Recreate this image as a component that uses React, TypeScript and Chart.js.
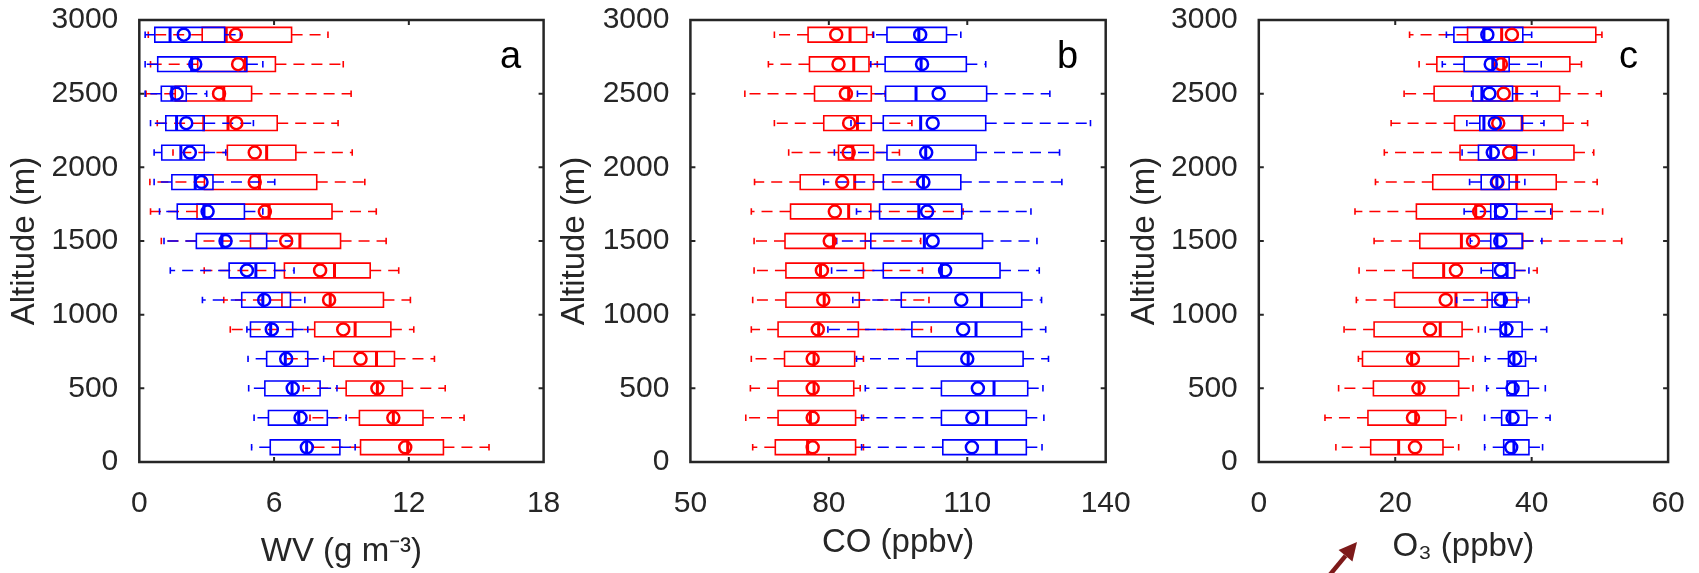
import React, { useEffect, useRef } from "react";
import { Chart, registerables } from "chart.js";

Chart.register(...registerables);

// Altitude levels (m), top to bottom
const ALTITUDES = [2900, 2700, 2500, 2300, 2100, 1900, 1700, 1500, 1300, 1100, 900, 700, 500, 300, 100];

// ---------- Panel a: WV (g m-3) ----------
const WV_RED_MIN = [0.4, 0.5, 0.3, 0.8, 1.5, 0.47, 0.5, 0.98, 2.89, 3.76, 4.05, 6.5, 7.3, 7.6, 7.7];
const WV_RED_Q1 = [2.8, 2.6, 1.6, 2.84, 3.92, 2.9, 2.57, 4.95, 6.46, 6.35, 7.81, 8.66, 9.21, 9.8, 9.85];
const WV_RED_MED = [3.87, 4.72, 3.76, 3.95, 5.67, 5.35, 5.78, 7.15, 8.69, 8.5, 9.61, 10.56, 10.6, 11.31, 11.95];
const WV_RED_MEAN = [4.3, 4.4, 3.55, 4.32, 5.14, 5.14, 5.59, 6.54, 8.05, 8.45, 9.08, 9.85, 10.6, 11.31, 11.84];
const WV_RED_Q3 = [6.78, 6.06, 5.0, 6.14, 6.97, 7.9, 8.58, 8.96, 10.28, 10.87, 11.2, 11.36, 11.71, 12.63, 13.54];
const WV_RED_MAX = [8.4, 9.08, 9.43, 8.85, 9.48, 10.04, 10.55, 10.99, 11.55, 12.07, 12.22, 13.14, 13.62, 14.46, 15.57];

const WV_BLUE_MIN = [0.26, 0.26, 0.26, 0.5, 0.66, 0.66, 0.9, 1.1, 1.38, 2.81, 4.79, 4.84, 4.87, 5.11, 5.0];
const WV_BLUE_Q1 = [0.69, 0.82, 0.98, 1.18, 1.0, 1.45, 1.69, 2.54, 4.0, 4.56, 4.95, 5.67, 5.59, 5.75, 5.83];
const WV_BLUE_MED = [1.37, 2.33, 1.45, 1.66, 1.85, 2.49, 2.88, 3.68, 5.19, 5.5, 5.85, 6.5, 6.8, 7.1, 7.45];
const WV_BLUE_MEAN = [1.98, 2.49, 1.66, 2.09, 2.25, 2.77, 3.04, 3.84, 4.79, 5.56, 5.9, 6.54, 6.83, 7.18, 7.46];
const WV_BLUE_Q3 = [3.8, 4.79, 2.09, 2.89, 2.89, 3.28, 4.68, 5.67, 6.03, 6.73, 6.83, 7.5, 8.05, 8.37, 8.93];
const WV_BLUE_MAX = [4.5, 5.5, 3.0, 5.08, 3.85, 6.03, 5.5, 6.8, 6.89, 7.37, 7.5, 8.21, 8.8, 9.21, 9.61];

// ---------- Panel b: CO (ppbv) ----------
const CO_RED_MIN = [68.2, 66.9, 61.8, 68.2, 71.3, 63.9, 63.2, 63.8, 63.8, 63.5, 63.2, 63.2, 63.0, 62.0, 63.5];
const CO_RED_Q1 = [75.5, 75.8, 76.9, 78.9, 82.1, 73.8, 71.7, 70.5, 70.7, 70.7, 69.0, 70.4, 69.0, 69.0, 68.4];
const CO_RED_MED = [84.6, 85.4, 84.3, 86.2, 85.2, 85.6, 84.3, 81.0, 78.2, 79.0, 77.8, 76.8, 76.8, 76.0, 75.4];
const CO_RED_MEAN = [81.6, 82.1, 83.7, 84.4, 84.3, 82.9, 81.3, 80.2, 78.5, 78.8, 77.6, 76.5, 76.5, 76.5, 76.5];
const CO_RED_Q3 = [88.2, 88.7, 89.2, 89.2, 89.7, 89.7, 89.1, 87.9, 87.5, 86.6, 86.4, 85.6, 85.4, 85.8, 85.8];
const CO_RED_MAX = [89.5, 90.5, 92.2, 98.0, 95.3, 99.1, 109.1, 99.9, 100.3, 101.7, 102.2, 87.5, 86.8, 87.5, 87.5];

const CO_BLUE_MIN = [89.7, 89.1, 86.2, 84.8, 81.2, 78.9, 86.0, 81.7, 80.6, 85.2, 79.8, 86.0, 87.9, 87.1, 87.1];
const CO_BLUE_Q1 = [92.6, 92.2, 92.3, 91.8, 92.6, 91.8, 91.0, 89.1, 91.8, 95.7, 98.0, 99.1, 104.4, 104.4, 104.7];
const CO_BLUE_MED = [99.5, 100.0, 98.9, 99.9, 101.0, 100.5, 99.5, 100.7, 104.4, 113.1, 111.9, 110.2, 115.8, 114.2, 116.3];
const CO_BLUE_MEAN = [99.8, 100.2, 103.8, 102.5, 101.1, 100.5, 101.3, 102.5, 105.2, 108.7, 109.1, 110.0, 112.3, 111.1, 111.0];
const CO_BLUE_Q3 = [105.5, 109.8, 114.2, 114.0, 111.9, 108.6, 108.8, 113.3, 117.1, 121.8, 121.8, 122.1, 123.1, 122.8, 122.8];
const CO_BLUE_MAX = [108.6, 114.0, 127.9, 136.7, 130.0, 130.5, 123.8, 125.1, 125.6, 126.1, 127.0, 127.6, 126.4, 126.6, 126.2];

// ---------- Panel c: O3 (ppbv) ----------
const O3_RED_MIN = [22.1, 23.5, 21.3, 19.4, 18.4, 17.1, 14.1, 16.9, 14.7, 14.3, 12.5, 14.6, 11.7, 9.7, 11.3];
const O3_RED_Q1 = [30.6, 26.1, 25.7, 28.7, 29.5, 25.5, 23.1, 23.6, 22.6, 19.9, 16.9, 15.2, 16.8, 16.0, 16.4];
const O3_RED_MED = [35.6, 35.9, 37.8, 38.6, 37.5, 37.8, 31.8, 29.7, 27.1, 28.9, 26.6, 22.4, 23.5, 23.0, 20.5];
const O3_RED_MEAN = [37.1, 35.5, 35.9, 35.1, 36.7, 35.0, 32.3, 31.4, 28.9, 27.4, 25.1, 22.6, 23.4, 22.6, 22.9];
const O3_RED_Q3 = [49.4, 45.6, 44.1, 44.6, 46.2, 43.6, 43.0, 38.7, 37.5, 33.5, 29.8, 29.3, 29.3, 27.4, 27.0];
const O3_RED_MAX = [50.3, 47.3, 50.2, 48.2, 49.1, 49.6, 50.4, 53.2, 40.8, 38.0, 32.2, 31.4, 31.4, 29.7, 29.3];

const O3_BLUE_MIN = [27.5, 26.9, 31.2, 30.5, 29.8, 30.9, 30.1, 31.0, 32.6, 29.0, 33.2, 33.2, 33.4, 33.1, 33.1];
const O3_BLUE_Q1 = [28.6, 30.1, 31.4, 32.4, 32.2, 32.6, 34.0, 34.0, 34.3, 34.2, 35.4, 36.6, 36.4, 35.6, 35.9];
const O3_BLUE_MED = [33.0, 34.3, 32.7, 33.0, 34.0, 34.9, 34.7, 34.9, 36.4, 36.0, 36.2, 37.4, 37.6, 36.8, 37.4];
const O3_BLUE_MEAN = [33.5, 34.0, 33.8, 34.6, 34.3, 34.9, 35.5, 35.4, 35.5, 35.5, 36.3, 37.6, 37.2, 37.2, 37.0];
const O3_BLUE_Q3 = [38.7, 36.7, 37.2, 38.6, 37.8, 36.7, 37.8, 38.6, 37.5, 37.8, 38.6, 39.1, 39.5, 39.3, 39.6];
const O3_BLUE_MAX = [40.0, 41.4, 40.8, 41.8, 40.3, 39.0, 42.8, 41.5, 39.6, 39.6, 42.2, 40.6, 42.0, 42.7, 41.6];

// ---------- styles ----------
const FONT = '"Liberation Sans", Arial, Helvetica, sans-serif';
const TEXT = "#262626";
const RED = "#ff0000";
const BLUE = "#0000ff";
const BOX_HALF = 50; // half box height in altitude units
const CAP_HALF = 22;
const TICK_SIZE = 30;
const TITLE_SIZE = 33;

type Stats = { min: number[]; q1: number[]; med: number[]; mean: number[]; q3: number[]; max: number[] };

const gap = () => ({ x: null, y: null });

function seriesParts(s: Stats, color: string) {
  const box: any[] = [];
  const whisk: any[] = [];
  const caps: any[] = [];
  const med: any[] = [];
  const mean: any[] = [];
  ALTITUDES.forEach((a, i) => {
    const lo = a - BOX_HALF;
    const hi = a + BOX_HALF;
    box.push({ x: s.q1[i], y: lo }, { x: s.q3[i], y: lo }, { x: s.q3[i], y: hi }, { x: s.q1[i], y: hi }, { x: s.q1[i], y: lo }, gap());
    whisk.push({ x: s.q3[i], y: a }, { x: s.max[i], y: a }, gap(), { x: s.q1[i], y: a }, { x: s.min[i], y: a }, gap());
    caps.push({ x: s.max[i], y: a - CAP_HALF }, { x: s.max[i], y: a + CAP_HALF }, gap(), { x: s.min[i], y: a - CAP_HALF }, { x: s.min[i], y: a + CAP_HALF }, gap());
    med.push({ x: s.med[i], y: lo }, { x: s.med[i], y: hi }, gap());
    mean.push({ x: s.mean[i], y: a });
  });
  const line = (data: any[], width: number, dash: number[] = [], cap = "butt") => ({
    data,
    showLine: true,
    spanGaps: false,
    borderColor: color,
    borderWidth: width,
    borderDash: dash,
    borderCapStyle: cap,
    borderJoinStyle: "miter",
    pointRadius: 0,
    pointHoverRadius: 0,
    fill: false,
    tension: 0,
  });
  return {
    body: [line(whisk, 1.5, [11, 7]), line(caps, 1.6), line(box, 1.6, [], "square"), line(med, 3)],
    mean: {
      data: mean,
      showLine: false,
      pointStyle: "circle",
      pointRadius: 6,
      pointHoverRadius: 6,
      pointBorderWidth: 2.5,
      pointBorderColor: color,
      pointBackgroundColor: "rgba(0,0,0,0)",
      borderColor: color,
      backgroundColor: "rgba(0,0,0,0)",
    },
  };
}

const framePlugin = {
  id: "frame",
  afterDatasetsDraw(chart: any, _args: any, opts: any) {
    const { ctx, chartArea } = chart;
    const { left, right, top, bottom } = chartArea;
    ctx.save();
    ctx.strokeStyle = TEXT;
    ctx.lineWidth = 2.5;
    ctx.strokeRect(left, top, right - left, bottom - top);
    const TL = 5;
    ctx.lineWidth = 2;
    const xs = chart.scales.x;
    const ys = chart.scales.y;
    ctx.beginPath();
    xs.ticks.forEach((t: any) => {
      const p = xs.getPixelForValue(t.value);
      if (p <= left + 1 || p >= right - 1) return;
      ctx.moveTo(p, bottom);
      ctx.lineTo(p, bottom - TL);
      ctx.moveTo(p, top);
      ctx.lineTo(p, top + TL);
    });
    ys.ticks.forEach((t: any) => {
      const p = ys.getPixelForValue(t.value);
      if (p <= top + 1 || p >= bottom - 1) return;
      ctx.moveTo(left, p);
      ctx.lineTo(left + TL, p);
      ctx.moveTo(right, p);
      ctx.lineTo(right - TL, p);
    });
    ctx.stroke();
    ctx.fillStyle = "#000";
    ctx.font = `38px ${FONT}`;
    ctx.textAlign = "right";
    ctx.textBaseline = "alphabetic";
    ctx.fillText(opts.letter, right - opts.dx, top + 48);
    ctx.restore();
  },
  afterDraw(chart: any, _args: any, opts: any) {
    if (!opts.arrow) return;
    const ctx = chart.ctx;
    const [tx, ty, bx, by] = opts.arrow;
    ctx.save();
    ctx.strokeStyle = "#7d1a1a";
    ctx.fillStyle = "#7d1a1a";
    ctx.lineWidth = 4.5;
    const ang = Math.atan2(ty - by, tx - bx);
    const hl = 18;
    const hw = 9;
    const baseX = tx - hl * Math.cos(ang);
    const baseY = ty - hl * Math.sin(ang);
    ctx.beginPath();
    ctx.moveTo(bx, by);
    ctx.lineTo(baseX, baseY);
    ctx.stroke();
    ctx.beginPath();
    ctx.moveTo(tx, ty);
    ctx.lineTo(baseX + hw * Math.sin(ang), baseY - hw * Math.cos(ang));
    ctx.lineTo(baseX - hw * Math.sin(ang), baseY + hw * Math.cos(ang));
    ctx.closePath();
    ctx.fill();
    ctx.restore();
  },
};

type Panel = {
  left: number;
  width: number;
  yAxisWidth: number;
  padRight: number;
  yTitlePad: number;
  xTitlePad: number;
  xMin: number;
  xMax: number;
  xStep: number;
  xTitle: string;
  letter: string;
  letterDx: number;
  red: Stats;
  blue: Stats;
  arrow?: number[];
};

const PANELS: Panel[] = [
  {
    left: 0, width: 600, yAxisWidth: 139.3, padRight: 56.4, yTitlePad: 5, xTitlePad: 1,
    xMin: 0, xMax: 18, xStep: 6, xTitle: "WV (g m⁻³)", letter: "a", letterDx: 22.5,
    red: { min: WV_RED_MIN, q1: WV_RED_Q1, med: WV_RED_MED, mean: WV_RED_MEAN, q3: WV_RED_Q3, max: WV_RED_MAX },
    blue: { min: WV_BLUE_MIN, q1: WV_BLUE_Q1, med: WV_BLUE_MED, mean: WV_BLUE_MEAN, q3: WV_BLUE_Q3, max: WV_BLUE_MAX },
  },
  {
    left: 552, width: 608, yAxisWidth: 138.4, padRight: 54.3, yTitlePad: 3, xTitlePad: 10.5,
    xMin: 50, xMax: 140, xStep: 30, xTitle: "CO (ppbv)", letter: "b", letterDx: 27.5,
    red: { min: CO_RED_MIN, q1: CO_RED_Q1, med: CO_RED_MED, mean: CO_RED_MEAN, q3: CO_RED_Q3, max: CO_RED_MAX },
    blue: { min: CO_BLUE_MIN, q1: CO_BLUE_Q1, med: CO_BLUE_MED, mean: CO_BLUE_MEAN, q3: CO_BLUE_Q3, max: CO_BLUE_MAX },
  },
  {
    left: 1122, width: 577, yAxisWidth: 136.8, padRight: 30.9, yTitlePad: 3, xTitlePad: 6.5,
    xMin: 0, xMax: 60, xStep: 20, xTitle: "O₃ (ppbv)", letter: "c", letterDx: 30,
    red: { min: O3_RED_MIN, q1: O3_RED_Q1, med: O3_RED_MED, mean: O3_RED_MEAN, q3: O3_RED_Q3, max: O3_RED_MAX },
    blue: { min: O3_BLUE_MIN, q1: O3_BLUE_Q1, med: O3_BLUE_MED, mean: O3_BLUE_MEAN, q3: O3_BLUE_Q3, max: O3_BLUE_MAX },
    arrow: [235, 542, 206, 577],
  },
];

const plainTick = (v: any) => String(v);

function BoxPanel({ p }: { p: Panel }) {
  const ref = useRef<HTMLCanvasElement | null>(null);
  useEffect(() => {
    if (!ref.current) return;
    const red = seriesParts(p.red, RED);
    const blue = seriesParts(p.blue, BLUE);
    const ordered = [...red.body, ...blue.body, red.mean, blue.mean];
    const datasets = ordered.map((d, i) => ({ ...d, order: ordered.length - i }));
    const chart = new Chart(ref.current, {
      type: "line",
      data: { datasets } as any,
      plugins: [framePlugin as any],
      options: {
        responsive: false,
        maintainAspectRatio: false,
        animation: false,
        events: [],
        layout: { padding: { top: 20, right: p.padRight, bottom: 0, left: 0 } },
        plugins: {
          legend: { display: false },
          tooltip: { enabled: false },
          frame: { letter: p.letter, dx: p.letterDx, arrow: p.arrow },
        } as any,
        scales: {
          x: {
            type: "linear",
            min: p.xMin,
            max: p.xMax,
            grid: { display: false },
            border: { display: false },
            ticks: { stepSize: p.xStep, callback: plainTick, font: { family: FONT, size: TICK_SIZE }, color: TEXT, padding: 16, maxRotation: 0, autoSkip: false },
            title: { display: true, text: p.xTitle, font: { family: FONT, size: TITLE_SIZE }, color: TEXT, padding: { top: 0, bottom: p.xTitlePad } },
            afterFit: (s: any) => { s.height = 111; s.paddingLeft = 0; s.paddingRight = 0; },
          },
          y: {
            type: "linear",
            min: 0,
            max: 3000,
            grid: { display: false },
            border: { display: false },
            ticks: { stepSize: 500, callback: plainTick, font: { family: FONT, size: TICK_SIZE }, color: TEXT, padding: 13, autoSkip: false },
            title: { display: true, text: "Altitude (m)", font: { family: FONT, size: TITLE_SIZE }, color: TEXT, padding: { top: p.yTitlePad, bottom: 0 } },
            afterFit: (s: any) => { s.width = p.yAxisWidth; s.paddingTop = 0; s.paddingBottom = 0; },
          },
        },
      } as any,
    });
    return () => chart.destroy();
  }, [p]);
  return (
    <canvas
      ref={ref}
      width={p.width}
      height={573}
      style={{ position: "absolute", left: p.left, top: 0, width: p.width, height: 573 }}
    />
  );
}

export default function App() {
  return (
    <div style={{ position: "absolute", left: 0, top: 0, width: 1699, height: 573, background: "#fff", overflow: "hidden" }}>
      {PANELS.map((p) => (
        <BoxPanel key={p.letter} p={p} />
      ))}
    </div>
  );
}
